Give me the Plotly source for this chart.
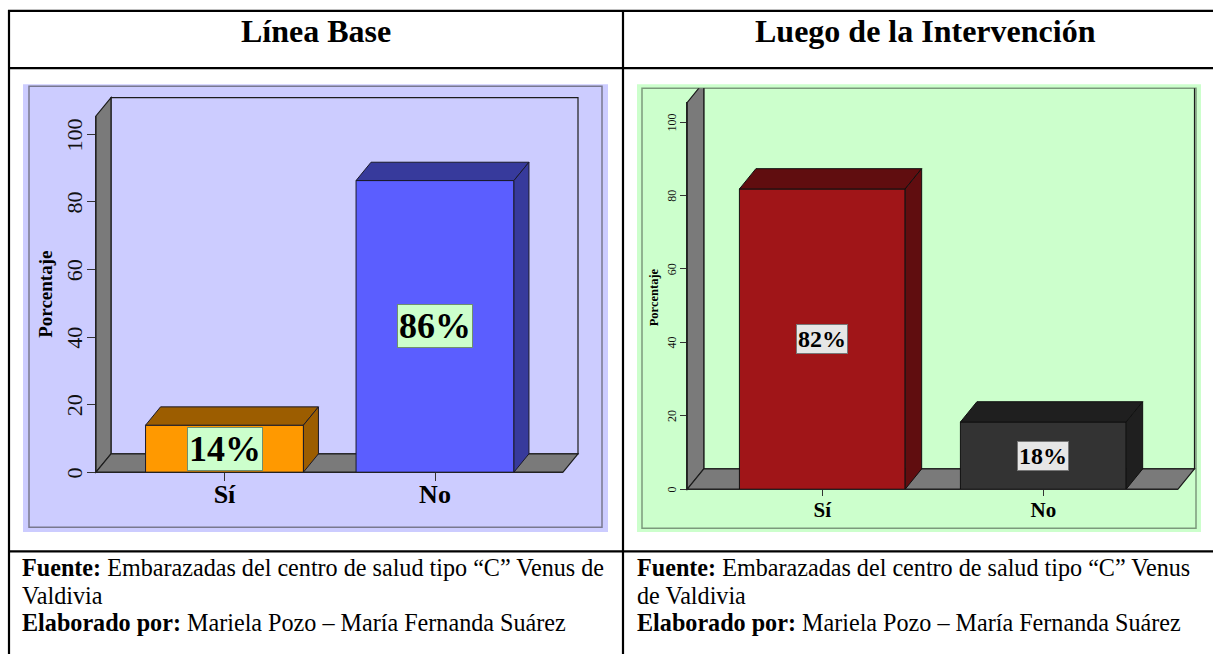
import plotly.graph_objects as go

W, H = 1213, 660
FONT = "Liberation Serif"

categories = ["Sí", "No"]
base_values = [13.9, 86.3]
base_labels = ["14%", "86%"]
after_values = [81.8, 18.3]
after_labels = ["82%", "18%"]
y_ticks = [0, 20, 40, 60, 80, 100]
y_title = "Porcentaje"
titles = ["Línea Base", "Luego de la Intervención"]
footer_left = [
    "<b>Fuente:</b> Embarazadas del centro de salud tipo “C” Venus de",
    "Valdivia",
    "<b>Elaborado por:</b> Mariela Pozo – María Fernanda Suárez",
]
footer_right = [
    "<b>Fuente:</b> Embarazadas del centro de salud tipo “C” Venus",
    "de Valdivia",
    "<b>Elaborado por:</b> Mariela Pozo – María Fernanda Suárez",
]


def px(x):
    return x / W


def py(y):
    return 1 - y / H


panels = [
    dict(n="", n2="2", values=base_values, labels=base_labels,
         colors=["#FF9900", "#5B5EFF"], sides=["#9C5D00", "#373A9C"], edge="#1a1a2a",
         bg="#CCCCFF", border="#78788F", outer=(23, 85, 608, 537), inner=(29, 87, 602, 532),
         x0=96, x1=563, cat0=224.5, cat1=435, y0=476.5, y100=135.5, ytop=117,
         dx=15, dy=18.5, tick_size=22, title_x=45.5, title_y=297, title_size=19, cat_size=26, ticklen=8,
         standoff=-4, shift=4, cat_standoff=-9, label_size=36, label_bg="#CCFFCC", label_border="#6f8f6f"),
    dict(n="3", n2="4", values=after_values, labels=after_labels,
         colors=["#A01518", "#333333"], sides=["#600D0F", "#1F1F1F"], edge="#111111",
         bg="#CCFFCC", border="#7C9A7C", outer=(637, 85, 1201, 537), inner=(642, 89, 1196, 533),
         x0=687.3, x1=1178, cat0=822.3, cat1=1043.3, y0=493.7, y100=123.3, ytop=103.3,
         dx=16.5, dy=20.5, tick_size=12, title_x=654, title_y=300, title_size=12.5, cat_size=21, ticklen=6,
         standoff=0, shift=2, cat_standoff=-4, label_size=24, label_bg="#E6E6E6", label_border="#777777"),
]

fig = go.Figure()
shapes, annotations = [], []
layout_axes = {}

for i, p in enumerate(panels):
    xu = p["cat1"] - p["cat0"]
    yu = (p["y0"] - p["y100"]) / 100
    to_x = lambda v: (v - p["cat0"]) / xu
    to_y = lambda v: (p["y0"] - v) / yu
    xa, ya = "x" + p["n"], "y" + p["n"]
    xb, yb = "x" + p["n2"], "y" + p["n2"]
    ddx, ddy = p["dx"] / xu, p["dy"] / yu
    L, R = to_x(p["x0"]), to_x(p["x1"])
    T = to_y(p["ytop"])

    o, q = p["outer"], p["inner"]
    shapes.append(dict(type="rect", xref="paper", yref="paper", layer="below",
                       x0=px(o[0]), x1=px(o[2]), y0=py(o[3]), y1=py(o[1]),
                       fillcolor=p["bg"], line=dict(width=0)))
    shapes.append(dict(type="rect", xref="paper", yref="paper", layer="below",
                       x0=px(q[0]), x1=px(q[2]), y0=py(q[3]), y1=py(q[1]),
                       fillcolor="rgba(0,0,0,0)", line=dict(width=1.5, color=p["border"])))

    layout_axes["xaxis" + p["n"]] = dict(domain=[px(q[0]), px(q[2])],
                                         range=[to_x(q[0]), to_x(q[2])],
                                         visible=False, anchor=ya, fixedrange=True)
    layout_axes["yaxis" + p["n"]] = dict(domain=[py(q[3]), py(q[1])],
                                         range=[to_y(q[3]), to_y(q[1])],
                                         visible=False, anchor=xa, fixedrange=True)
    layout_axes["xaxis" + p["n2"]] = dict(
        domain=[px(p["x0"]), px(p["x1"])], range=[L, R], anchor=yb,
        tickvals=[0, 1], ticktext=["<b>%s</b>" % c for c in categories],
        ticks="outside", ticklen=p["ticklen"], tickcolor="#333333", showgrid=False,
        zeroline=False, showline=True, linecolor="#222222", linewidth=1,
        ticklabelstandoff=p["cat_standoff"],
        tickfont=dict(family=FONT, size=p["cat_size"], color="black"), fixedrange=True)
    layout_axes["yaxis" + p["n2"]] = dict(
        domain=[py(p["y0"]), py(p["ytop"])], range=[0, T], anchor=xb,
        tickvals=y_ticks, tickangle=-90, ticks="outside", ticklen=p["ticklen"],
        tickcolor="#333333", showgrid=False, zeroline=False, showline=True,
        linecolor="#222222", linewidth=1, ticklabelstandoff=p["standoff"], ticklabelshift=p["shift"],
        tickfont=dict(family=FONT, size=p["tick_size"], color="#111111"), fixedrange=True)
    annotations.append(dict(x=px(p["title_x"]), y=py(p["title_y"]), xref="paper", yref="paper",
                            text="<b>%s</b>" % y_title, textangle=-90, showarrow=False,
                            xanchor="center", yanchor="middle",
                            font=dict(family=FONT, size=p["title_size"], color="black")))

    wall_line = dict(color="#1c1c1c", width=1.2)
    shapes.append(dict(type="path", xref=xa, yref=ya, layer="below",
                       path=f"M {L+ddx} {ddy} L {L+ddx} {T+ddy} L {R+ddx} {T+ddy} L {R+ddx} {ddy} Z",
                       fillcolor="rgba(0,0,0,0)", line=wall_line))
    shapes.append(dict(type="path", xref=xa, yref=ya, layer="below",
                       path=f"M {L} 0 L {L} {T} L {L+ddx} {T+ddy} L {L+ddx} {ddy} Z",
                       fillcolor="#7A7A7A", line=wall_line))
    shapes.append(dict(type="path", xref=xa, yref=ya, layer="below",
                       path=f"M {L} 0 L {R} 0 L {R+ddx} {ddy} L {L+ddx} {ddy} Z",
                       fillcolor="#7A7A7A", line=wall_line))

    fig.add_trace(go.Bar(x=[0, 1], y=p["values"], width=0.75, xaxis=xa, yaxis=ya,
                         marker=dict(color=p["colors"], line=dict(color=p["edge"], width=1)),
                         text=categories, textposition="none", hoverinfo="y+text", showlegend=False))
    fig.add_trace(go.Scatter(x=[None], y=[None], xaxis=xb, yaxis=yb, showlegend=False,
                             hoverinfo="skip"))

    hw = 0.375
    for k, v in enumerate(p["values"]):
        a, b = k - hw, k + hw
        fig.add_trace(go.Scatter(
            x=[a, b, b + ddx, a + ddx, a], y=[v, v, v + ddy, v + ddy, v],
            xaxis=xa, yaxis=ya, mode="lines", fill="toself", fillcolor=p["sides"][k],
            line=dict(color=p["edge"], width=1), showlegend=False, hoverinfo="skip"))
        fig.add_trace(go.Scatter(
            x=[b, b + ddx, b + ddx, b, b], y=[0, ddy, v + ddy, v, 0],
            xaxis=xa, yaxis=ya, mode="lines", fill="toself", fillcolor=p["sides"][k],
            line=dict(color=p["edge"], width=1), showlegend=False, hoverinfo="skip"))
        annotations.append(dict(
            x=k, y=v / 2, xref=xa, yref=ya, text="<b>%s</b>" % p["labels"][k], showarrow=False,
            font=dict(family=FONT, size=p["label_size"], color="black"),
            bgcolor=p["label_bg"], bordercolor=p["label_border"], borderwidth=1, borderpad=1))

rule = dict(color="black", width=2.2)
for x0, y0, x1, y1 in [(8, 11, W, 11), (8, 68.7, W, 68.7), (8, 556.5, W, 556.5),
                       (9, 10, 9, H), (623, 10, 623, H)]:
    shapes.append(dict(type="line", xref="paper", yref="paper", x0=px(x0), x1=px(x1),
                       y0=py(y0), y1=py(y1), line=rule))

for cx, t in zip((316, 925), titles):
    annotations.append(dict(x=px(cx), y=py(31), xref="paper", yref="paper", showarrow=False,
                            text="<b>%s</b>" % t, xanchor="center", yanchor="middle",
                            font=dict(family=FONT, size=32, color="black")))

for lx, lines in ((21, footer_left), (636, footer_right)):
    for ly, t in zip((573, 600.5, 628), lines):
        annotations.append(dict(x=px(lx), y=py(ly), xref="paper", yref="paper", showarrow=False,
                                text=t, xanchor="left", yanchor="middle", borderpad=0,
                                font=dict(family=FONT, size=24.15, color="black")))

fig.update_layout(width=W, height=H, margin=dict(l=0, r=0, t=0, b=0), paper_bgcolor="white",
                  plot_bgcolor="rgba(0,0,0,0)", shapes=shapes, annotations=annotations,
                  showlegend=False, **layout_axes)
fig.write_html("out.html", config={"displayModeBar": False},
               post_script="document.body.style.margin='0';document.documentElement.style.overflow='hidden';")
